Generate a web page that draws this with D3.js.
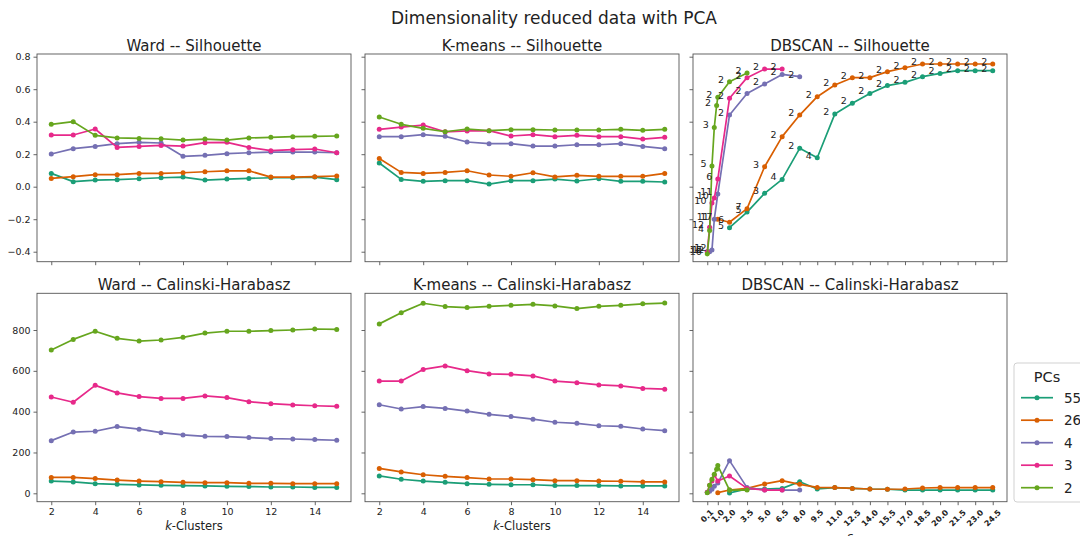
<!DOCTYPE html>
<html>
<head>
<meta charset="utf-8">
<script src="https://cdn.jsdelivr.net/npm/d3@7"></script>
<style>
  body { margin: 0; background: #fff; }
  svg { display: block; }
  text { font-family: "DejaVu Sans", sans-serif; fill: #222; }
</style>
</head>
<body>
<svg id="chart" width="1080" height="536"></svg>
<script>
// Series: number of principal components kept
const pcs = ["55", "26", "4", "3", "2"];
const pcColors = ["#1b9e77", "#d95f02", "#7570b3", "#e7298a", "#66a61e"];

// Number of clusters tried for Ward and K-means
const kClusters = [2, 3, 4, 5, 6, 7, 8, 9, 10, 11, 12, 13, 14, 15];
const kTicks = [2, 4, 6, 8, 10, 12, 14];

// Silhouette scores, one row per PC setting (55, 26, 4, 3, 2)
const wardSilhouette = [
  [0.082, 0.031, 0.041, 0.043, 0.049, 0.055, 0.059, 0.041, 0.047, 0.051, 0.055, 0.055, 0.059, 0.043],
  [0.051, 0.062, 0.074, 0.074, 0.082, 0.082, 0.086, 0.092, 0.098, 0.098, 0.059, 0.059, 0.062, 0.066],
  [0.201, 0.234, 0.248, 0.265, 0.273, 0.269, 0.187, 0.193, 0.203, 0.209, 0.213, 0.213, 0.213, 0.209],
  [0.318, 0.318, 0.355, 0.242, 0.248, 0.254, 0.250, 0.271, 0.273, 0.242, 0.222, 0.228, 0.232, 0.209],
  [0.384, 0.400, 0.316, 0.300, 0.297, 0.295, 0.287, 0.293, 0.287, 0.300, 0.304, 0.308, 0.310, 0.312]
];
const kmeansSilhouette = [
  [0.146, 0.045, 0.033, 0.037, 0.037, 0.016, 0.037, 0.037, 0.047, 0.035, 0.049, 0.033, 0.033, 0.029],
  [0.174, 0.088, 0.082, 0.088, 0.098, 0.072, 0.064, 0.086, 0.060, 0.070, 0.064, 0.064, 0.064, 0.082],
  [0.308, 0.308, 0.320, 0.310, 0.275, 0.265, 0.265, 0.250, 0.250, 0.258, 0.258, 0.265, 0.248, 0.234],
  [0.353, 0.367, 0.379, 0.338, 0.343, 0.345, 0.312, 0.320, 0.308, 0.316, 0.308, 0.308, 0.293, 0.304],
  [0.429, 0.384, 0.359, 0.338, 0.355, 0.345, 0.351, 0.351, 0.349, 0.349, 0.349, 0.353, 0.347, 0.353]
];

// Calinski-Harabasz scores
const wardCalinski = [
  [60, 56, 47, 44, 41, 39, 38, 36, 34, 33, 31, 31, 29, 29],
  [78, 78, 72, 65, 60, 57, 54, 52, 52, 49, 49, 47, 47, 47],
  [258, 300, 304, 327, 314, 297, 286, 279, 278, 273, 268, 266, 263, 260],
  [472, 446, 529, 492, 474, 465, 465, 477, 469, 449, 439, 433, 429, 426],
  [702, 754, 794, 759, 746, 751, 764, 785, 794, 794, 797, 800, 805, 803]
];
const kmeansCalinski = [
  [85, 69, 60, 54, 47, 44, 42, 42, 38, 38, 38, 36, 36, 36],
  [122, 105, 91, 83, 77, 70, 70, 67, 62, 62, 60, 59, 56, 56],
  [434, 413, 425, 416, 403, 387, 376, 363, 348, 343, 331, 328, 315, 307],
  [550, 550, 607, 624, 601, 585, 583, 575, 550, 542, 531, 526, 514, 510],
  [830, 885, 931, 915, 910, 916, 921, 926, 918, 905, 916, 921, 928, 932]
];

// DBSCAN: epsilon values tried per PC setting, with scores and clusters found
const dbscanEps = [
  [2.0, 3.5, 5.0, 6.5, 8.0, 9.5, 11.0, 12.5, 14.0, 15.5, 17.0, 18.5, 20.0, 21.5, 23.0, 24.5],
  [1.0, 2.0, 3.5, 5.0, 6.5, 8.0, 9.5, 11.0, 12.5, 14.0, 15.5, 17.0, 18.5, 20.0, 21.5, 23.0, 24.5],
  [0.1, 0.3, 0.5, 0.7, 1.0, 2.0, 3.5, 5.0, 6.5, 8.0],
  [0.1, 0.3, 0.5, 0.7, 1.0, 2.0, 3.5, 5.0, 6.5],
  [0.1, 0.3, 0.5, 0.7, 0.9, 1.0, 2.0, 3.5]
];
const dbscanSilhouette = [
  [-0.252, -0.156, -0.041, 0.045, 0.236, 0.178, 0.447, 0.513, 0.574, 0.622, 0.642, 0.677, 0.697, 0.714, 0.714, 0.714],
  [-0.200, -0.219, -0.135, 0.123, 0.308, 0.441, 0.554, 0.626, 0.671, 0.671, 0.708, 0.732, 0.755, 0.755, 0.755, 0.755, 0.755],
  [-0.400, -0.400, -0.390, -0.200, -0.045, 0.441, 0.574, 0.632, 0.691, 0.677],
  [-0.400, -0.250, -0.100, -0.070, 0.047, 0.544, 0.671, 0.724, 0.724],
  [-0.414, -0.270, 0.127, 0.365, 0.500, 0.550, 0.646, 0.700]
];
const dbscanCalinski = [
  [2, 21, 21, 24, 57, 21, 28, 24, 21, 20, 16, 16, 16, 16, 16, 16],
  [3, 16, 24, 46, 62, 44, 29, 28, 24, 21, 20, 21, 26, 28, 28, 28, 28],
  [5, 10, 20, 35, 50, 160, 28, 16, 16, 16],
  [5, 40, 60, 90, 60, 85, 24, 16, 16],
  [3, 39, 69, 93, 118, 136, 16, 16]
];
const dbscanClusters = [
  [5, 5, 3, 4, 2, 4, 2, 2, 2, 2, 2, 2, 2, 2, 2, 2],
  [17, 6, 7, 3, 2, 2, 2, 2, 2, 2, 2, 2, 2, 2, 2, 2, 2],
  [16, 12, 12, 11, 11, 2, 2, 2, 2, 2],
  [12, 12, 10, 10, 6, 2, 2, 2, 2],
  [16, 4, 5, 3, 2, 2, 2, 2]
];
const epsTicks = [0.1, 1.0, 2.0, 3.5, 5.0, 6.5, 8.0, 9.5, 11.0, 12.5, 14.0, 15.5, 17.0, 18.5, 20.0, 21.5, 23.0, 24.5];

const silTicks = [-0.4, -0.2, 0.0, 0.2, 0.4, 0.6, 0.8];
const chTicks = [0, 200, 400, 600, 800];

// ---- layout ----
const svg = d3.select("#chart");
const colX = [[37, 351], [365, 679], [693, 1007]];
const rowY = [[54, 261.7], [293.3, 501.7]];
const frameColor = "#555";

const ySil = d3.scaleLinear().domain([-0.4615, 0.8166]).range([rowY[0][1], rowY[0][0]]);
const yCH = d3.scaleLinear().domain([-41.1, 979.8]).range([rowY[1][1], rowY[1][0]]);
const xK = c => d3.scaleLinear().domain([1.35, 15.65]).range(colX[c]);
const xEps = d3.scaleLinear().domain([-1.12, 25.72]).range(colX[2]);

svg.append("text")
  .attr("x", 554).attr("y", 24)
  .attr("text-anchor", "middle")
  .style("font-size", "17px")
  .text("Dimensionality reduced data with PCA");

const panels = [
  { r: 0, c: 0, title: "Ward -- Silhouette", x: xK(0), y: ySil, xs: () => kClusters, data: wardSilhouette },
  { r: 0, c: 1, title: "K-means -- Silhouette", x: xK(1), y: ySil, xs: () => kClusters, data: kmeansSilhouette },
  { r: 0, c: 2, title: "DBSCAN -- Silhouette", x: xEps, y: ySil, xs: i => dbscanEps[i], data: dbscanSilhouette, notes: true },
  { r: 1, c: 0, title: "Ward -- Calinski-Harabasz", x: xK(0), y: yCH, xs: () => kClusters, data: wardCalinski },
  { r: 1, c: 1, title: "K-means -- Calinski-Harabasz", x: xK(1), y: yCH, xs: () => kClusters, data: kmeansCalinski },
  { r: 1, c: 2, title: "DBSCAN -- Calinski-Harabasz", x: xEps, y: yCH, xs: i => dbscanEps[i], data: dbscanCalinski }
];

panels.forEach(p => {
  const g = svg.append("g");
  const [x0, x1] = colX[p.c];
  const [y0, y1] = rowY[p.r];
  const isDb = p.c === 2;

  // y axis (labels on the first column only)
  const yAxis = d3.axisLeft(p.y)
    .tickValues(p.r === 0 ? silTicks : chTicks)
    .tickSize(3.5).tickPadding(3)
    .tickFormat(p.c === 0 ? (p.r === 0 ? d3.format(".1f") : d3.format("d")) : "");
  const ya = g.append("g").attr("transform", `translate(${x0},0)`).call(yAxis);

  // x axis (labels on the bottom row only)
  const xAxis = d3.axisBottom(p.x)
    .tickValues(isDb ? epsTicks : kTicks)
    .tickSize(3.5).tickPadding(3.5)
    .tickFormat(p.r === 1 && !isDb ? d3.format("d") : "");
  const xa = g.append("g").attr("transform", `translate(0,${y1})`).call(xAxis);

  [ya, xa].forEach(a => {
    a.select(".domain").remove();
    a.selectAll(".tick line").attr("stroke", frameColor).attr("stroke-width", 0.9);
    a.selectAll(".tick text").style("font-size", "9.5px").style("font-family", "DejaVu Sans").attr("fill", "#222");
  });

  // rotated epsilon labels under the DBSCAN Calinski-Harabasz panel
  if (isDb && p.r === 1) {
    const lab = g.append("g");
    epsTicks.forEach(t => {
      const txt = lab.append("text")
        .attr("text-anchor", "middle")
        .attr("dominant-baseline", "central")
        .style("font-size", "8px")
        .style("font-weight", "bold")
        .attr("fill", "#333")
        .text(d3.format(".1f")(t));
      const len = txt.node().getComputedTextLength();
      const half = (len * Math.SQRT1_2 + 7 * Math.SQRT1_2) / 2;
      txt.attr("transform", `translate(${p.x(t)},${y1 + 7 + half}) rotate(-45)`);
    });
    g.append("text")
      .attr("x", (x0 + x1) / 2).attr("y", 541)
      .attr("text-anchor", "middle")
      .style("font-size", "12px").style("font-style", "italic")
      .text("ε");
  }
  if (p.r === 1 && !isDb) {
    const t = g.append("text")
      .attr("x", (x0 + x1) / 2).attr("y", 529.5)
      .attr("text-anchor", "middle")
      .style("font-size", "11.5px");
    t.append("tspan").style("font-style", "italic").text("k");
    t.append("tspan").text("-Clusters");
  }

  // series
  const clipId = `clip-${p.r}-${p.c}`;
  g.append("clipPath").attr("id", clipId)
    .append("rect").attr("x", x0).attr("y", y0).attr("width", x1 - x0).attr("height", y1 - y0);
  const plot = g.append("g").attr("clip-path", `url(#${clipId})`);

  p.data.forEach((vals, i) => {
    const xs = p.xs(i);
    const pts = vals.map((v, j) => [xs[j], v]);
    plot.append("path")
      .datum(pts)
      .attr("fill", "none")
      .attr("stroke", pcColors[i])
      .attr("stroke-width", 1.7)
      .attr("stroke-linejoin", "round")
      .attr("d", d3.line().x(d => p.x(d[0])).y(d => p.y(d[1])));
    plot.selectAll(null)
      .data(pts)
      .join("circle")
      .attr("cx", d => p.x(d[0]))
      .attr("cy", d => p.y(d[1]))
      .attr("r", 2.5)
      .attr("fill", pcColors[i]);
  });

  // cluster counts written beside each DBSCAN point
  if (p.notes) {
    p.data.forEach((vals, i) => {
      const xs = p.xs(i);
      vals.forEach((v, j) => {
        g.append("text")
          .attr("x", p.x(xs[j]) - 5.5)
          .attr("y", p.y(v) + 1)
          .attr("text-anchor", "end")
          .style("font-size", "9.5px")
          .text(dbscanClusters[i][j]);
      });
    });
  }

  // frame
  g.append("rect")
    .attr("x", x0).attr("y", y0)
    .attr("width", x1 - x0).attr("height", y1 - y0)
    .attr("fill", "none")
    .attr("stroke", frameColor)
    .attr("stroke-width", 0.9);

  g.append("text")
    .attr("x", (x0 + x1) / 2).attr("y", y0 - 3.5)
    .attr("text-anchor", "middle")
    .style("font-size", "15px")
    .text(p.title);
});

// legend
const leg = svg.append("g").attr("transform", "translate(1014,363)");
leg.append("rect")
  .attr("width", 90).attr("height", 139).attr("rx", 3)
  .attr("fill", "#fff").attr("stroke", "#ccc").attr("stroke-width", 0.9);
leg.append("text")
  .attr("x", 33).attr("y", 19)
  .attr("text-anchor", "middle")
  .style("font-size", "14.5px")
  .text("PCs");
pcs.forEach((name, i) => {
  const yy = 34.7 + i * 22.5;
  leg.append("line")
    .attr("x1", 7).attr("x2", 39).attr("y1", yy).attr("y2", yy)
    .attr("stroke", pcColors[i]).attr("stroke-width", 1.7);
  leg.append("circle").attr("cx", 23).attr("cy", yy).attr("r", 2.5).attr("fill", pcColors[i]);
  leg.append("text")
    .attr("x", 50).attr("y", yy + 5)
    .style("font-size", "13.5px")
    .text(name);
});
</script>
</body>
</html>
